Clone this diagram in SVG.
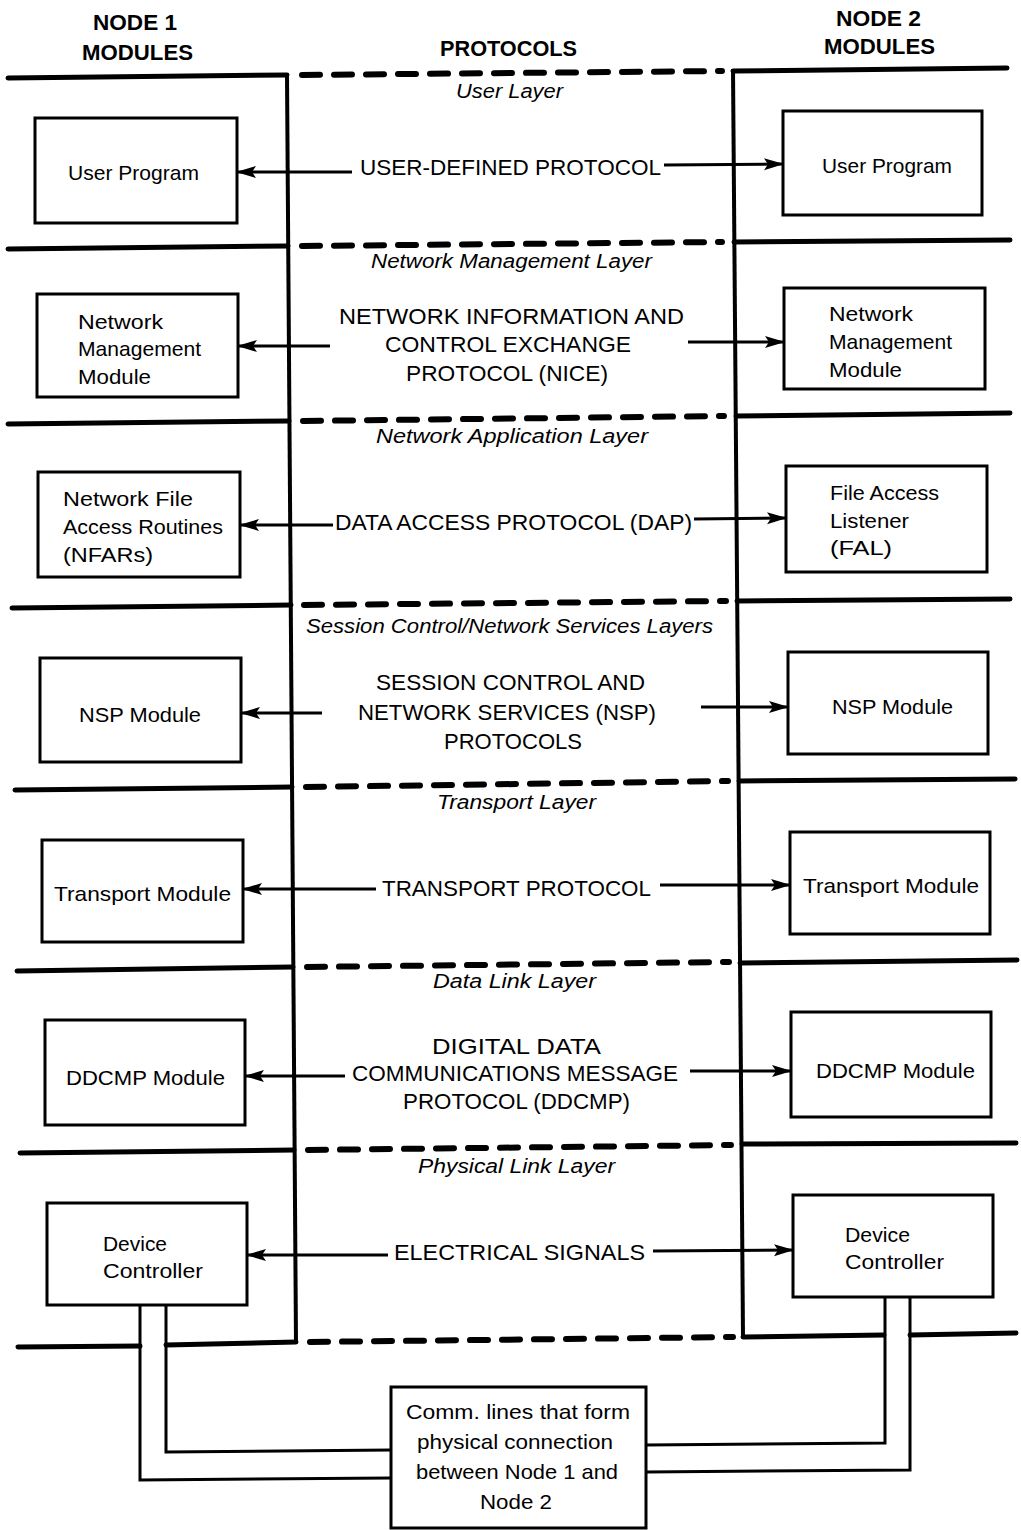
<svg xmlns="http://www.w3.org/2000/svg" width="1021" height="1530" viewBox="0 0 1021 1530">
<style>
.bg{fill:#fff}
.solid{stroke:#000;stroke-width:5;stroke-linecap:round;fill:none}
.dash{stroke:#000;stroke-width:6;stroke-linecap:round;stroke-dasharray:18 14;fill:none}
.vert{stroke:#000;stroke-width:4;fill:none}
.box{fill:#fff;stroke:#000;stroke-width:3}
.arr{stroke:#000;stroke-width:3;fill:none;marker-end:url(#ah)}
.pipe{stroke:#000;stroke-width:3;fill:none}
.hd{font-family:"Liberation Sans",Arial,sans-serif;font-weight:bold;font-size:22px;fill:#000}
.lay{font-family:"Liberation Sans",Arial,sans-serif;font-style:italic;font-size:20px;fill:#000}
.pr{font-family:"Liberation Sans",Arial,sans-serif;font-size:22px;fill:#000}
.md{font-family:"Liberation Sans",Arial,sans-serif;font-size:21px;fill:#000}
</style>
<defs>
<marker id="ah" markerWidth="20" markerHeight="14" refX="19" refY="7" orient="auto" markerUnits="userSpaceOnUse">
<path d="M0,1 L20,7 L0,13 L4,7 z" fill="#000"/>
</marker>
</defs>
<rect class="bg" x="0" y="0" width="1021" height="1530"/>

<g id="headers">
<text class="hd" x="93" y="30" textLength="84" lengthAdjust="spacingAndGlyphs">NODE 1</text>
<text class="hd" x="82" y="60" textLength="111" lengthAdjust="spacingAndGlyphs">MODULES</text>
<text class="hd" x="440" y="56" textLength="137" lengthAdjust="spacingAndGlyphs">PROTOCOLS</text>
<text class="hd" x="836" y="26" textLength="85" lengthAdjust="spacingAndGlyphs">NODE 2</text>
<text class="hd" x="824" y="54" textLength="111" lengthAdjust="spacingAndGlyphs">MODULES</text>
</g>

<g id="layer-lines">
<line class="solid" x1="8" y1="78" x2="287" y2="75"/>
<line class="solid" x1="8" y1="249" x2="288" y2="246"/>
<line class="solid" x1="8" y1="424" x2="289" y2="421"/>
<line class="solid" x1="12" y1="608" x2="291" y2="605"/>
<line class="solid" x1="15" y1="790" x2="292" y2="787"/>
<line class="solid" x1="17" y1="971" x2="293" y2="967"/>
<line class="solid" x1="20" y1="1153" x2="294" y2="1150"/>
<line class="solid" x1="18" y1="1347" x2="140" y2="1346"/>
<line class="solid" x1="166" y1="1345" x2="296" y2="1342"/>
<line class="solid" x1="733" y1="71" x2="1007" y2="68"/>
<line class="solid" x1="734" y1="242" x2="1010" y2="240"/>
<line class="solid" x1="736" y1="416" x2="1010" y2="413"/>
<line class="solid" x1="737" y1="601" x2="1010" y2="599"/>
<line class="solid" x1="739" y1="781" x2="1015" y2="779"/>
<line class="solid" x1="740" y1="963" x2="1017" y2="960"/>
<line class="solid" x1="742" y1="1144" x2="1016" y2="1143"/>
<line class="solid" x1="743" y1="1337" x2="884" y2="1335"/>
<line class="solid" x1="910" y1="1335" x2="1016" y2="1333"/>
<line class="dash" x1="302" y1="75" x2="722" y2="71"/>
<line class="dash" x1="302" y1="246" x2="722" y2="242"/>
<line class="dash" x1="303" y1="421" x2="724" y2="416"/>
<line class="dash" x1="304" y1="605" x2="726" y2="601"/>
<line class="dash" x1="306" y1="787" x2="728" y2="781"/>
<line class="dash" x1="307" y1="967" x2="729" y2="962"/>
<line class="dash" x1="308" y1="1150" x2="731" y2="1145"/>
<line class="dash" x1="310" y1="1342" x2="733" y2="1337"/>
<line class="vert" x1="287" y1="75" x2="296" y2="1343"/>
<line class="vert" x1="733" y1="69" x2="743" y2="1337"/>
</g>

<g id="layer-labels">
<text class="lay" x="456" y="98" textLength="107" lengthAdjust="spacingAndGlyphs">User Layer</text>
<text class="lay" x="371" y="268" textLength="281" lengthAdjust="spacingAndGlyphs">Network Management Layer</text>
<text class="lay" x="376" y="443" textLength="272" lengthAdjust="spacingAndGlyphs">Network Application Layer</text>
<text class="lay" x="306" y="633" textLength="407" lengthAdjust="spacingAndGlyphs">Session Control/Network Services Layers</text>
<text class="lay" x="437" y="809" textLength="159" lengthAdjust="spacingAndGlyphs">Transport Layer</text>
<text class="lay" x="433" y="988" textLength="163" lengthAdjust="spacingAndGlyphs">Data Link Layer</text>
<text class="lay" x="418" y="1173" textLength="197" lengthAdjust="spacingAndGlyphs">Physical Link Layer</text>
</g>

<g id="connectors">
<line class="arr" x1="352" y1="172" x2="237" y2="172"/>
<line class="arr" x1="664" y1="165" x2="783" y2="164"/>
<line class="arr" x1="330" y1="346" x2="238" y2="346"/>
<line class="arr" x1="688" y1="342" x2="784" y2="342"/>
<line class="arr" x1="333" y1="525" x2="240" y2="525"/>
<line class="arr" x1="694" y1="519" x2="786" y2="518"/>
<line class="arr" x1="322" y1="713" x2="241" y2="713"/>
<line class="arr" x1="701" y1="707" x2="788" y2="707"/>
<line class="arr" x1="376" y1="889" x2="243" y2="889"/>
<line class="arr" x1="660" y1="885" x2="790" y2="885"/>
<line class="arr" x1="345" y1="1076" x2="245" y2="1076"/>
<line class="arr" x1="690" y1="1071" x2="791" y2="1071"/>
<line class="arr" x1="388" y1="1255" x2="247" y2="1255"/>
<line class="arr" x1="653" y1="1251" x2="793" y2="1250"/>
<polyline class="pipe" points="140,1305 140,1480 391,1478"/>
<polyline class="pipe" points="166,1305 166,1452 391,1450"/>
<polyline class="pipe" points="885,1297 885,1443 646,1445"/>
<polyline class="pipe" points="910,1297 910,1470 646,1472"/>
</g>

<g id="protocols">
<text class="pr" x="360" y="175" textLength="301" lengthAdjust="spacingAndGlyphs">USER-DEFINED PROTOCOL</text>
<text class="pr" x="339" y="324" textLength="345" lengthAdjust="spacingAndGlyphs">NETWORK INFORMATION AND</text>
<text class="pr" x="385" y="352" textLength="246" lengthAdjust="spacingAndGlyphs">CONTROL EXCHANGE</text>
<text class="pr" x="406" y="381" textLength="202" lengthAdjust="spacingAndGlyphs">PROTOCOL (NICE)</text>
<text class="pr" x="335" y="530" textLength="357" lengthAdjust="spacingAndGlyphs">DATA ACCESS PROTOCOL (DAP)</text>
<text class="pr" x="376" y="690" textLength="269" lengthAdjust="spacingAndGlyphs">SESSION CONTROL AND</text>
<text class="pr" x="358" y="720" textLength="298" lengthAdjust="spacingAndGlyphs">NETWORK SERVICES (NSP)</text>
<text class="pr" x="444" y="749" textLength="138" lengthAdjust="spacingAndGlyphs">PROTOCOLS</text>
<text class="pr" x="382" y="896" textLength="269" lengthAdjust="spacingAndGlyphs">TRANSPORT PROTOCOL</text>
<text class="pr" x="432" y="1054" textLength="169" lengthAdjust="spacingAndGlyphs">DIGITAL DATA</text>
<text class="pr" x="352" y="1081" textLength="326" lengthAdjust="spacingAndGlyphs">COMMUNICATIONS MESSAGE</text>
<text class="pr" x="403" y="1109" textLength="227" lengthAdjust="spacingAndGlyphs">PROTOCOL (DDCMP)</text>
<text class="pr" x="394" y="1260" textLength="251" lengthAdjust="spacingAndGlyphs">ELECTRICAL SIGNALS</text>
</g>

<g id="n1-user-program">
<rect class="box" x="35" y="118" width="202" height="105"/>
<text class="md" x="68" y="180" textLength="131" lengthAdjust="spacingAndGlyphs">User Program</text>
</g>
<g id="n2-user-program">
<rect class="box" x="783" y="111" width="199" height="104"/>
<text class="md" x="822" y="173" textLength="130" lengthAdjust="spacingAndGlyphs">User Program</text>
</g>

<g id="n1-netmgmt">
<rect class="box" x="37" y="294" width="201" height="103"/>
<text class="md" x="78" y="329" textLength="85" lengthAdjust="spacingAndGlyphs">Network</text>
<text class="md" x="78" y="356" textLength="123" lengthAdjust="spacingAndGlyphs">Management</text>
<text class="md" x="78" y="384" textLength="73" lengthAdjust="spacingAndGlyphs">Module</text>
</g>
<g id="n2-netmgmt">
<rect class="box" x="784" y="288" width="201" height="101"/>
<text class="md" x="829" y="321" textLength="84" lengthAdjust="spacingAndGlyphs">Network</text>
<text class="md" x="829" y="349" textLength="123" lengthAdjust="spacingAndGlyphs">Management</text>
<text class="md" x="829" y="377" textLength="73" lengthAdjust="spacingAndGlyphs">Module</text>
</g>

<g id="n1-nfar">
<rect class="box" x="38" y="472" width="202" height="105"/>
<text class="md" x="63" y="506" textLength="130" lengthAdjust="spacingAndGlyphs">Network File</text>
<text class="md" x="63" y="534" textLength="160" lengthAdjust="spacingAndGlyphs">Access Routines</text>
<text class="md" x="63" y="562" textLength="90" lengthAdjust="spacingAndGlyphs">(NFARs)</text>
</g>
<g id="n2-fal">
<rect class="box" x="786" y="466" width="201" height="106"/>
<text class="md" x="830" y="500" textLength="109" lengthAdjust="spacingAndGlyphs">File Access</text>
<text class="md" x="830" y="528" textLength="79" lengthAdjust="spacingAndGlyphs">Listener</text>
<text class="md" x="830" y="555" textLength="62" lengthAdjust="spacingAndGlyphs">(FAL)</text>
</g>

<g id="n1-nsp">
<rect class="box" x="40" y="658" width="201" height="104"/>
<text class="md" x="79" y="722" textLength="122" lengthAdjust="spacingAndGlyphs">NSP Module</text>
</g>
<g id="n2-nsp">
<rect class="box" x="788" y="652" width="200" height="102"/>
<text class="md" x="832" y="714" textLength="121" lengthAdjust="spacingAndGlyphs">NSP Module</text>
</g>

<g id="n1-transport">
<rect class="box" x="42" y="840" width="201" height="102"/>
<text class="md" x="54" y="901" textLength="177" lengthAdjust="spacingAndGlyphs">Transport Module</text>
</g>
<g id="n2-transport">
<rect class="box" x="790" y="832" width="200" height="102"/>
<text class="md" x="803" y="893" textLength="176" lengthAdjust="spacingAndGlyphs">Transport Module</text>
</g>

<g id="n1-ddcmp">
<rect class="box" x="45" y="1020" width="200" height="105"/>
<text class="md" x="66" y="1085" textLength="159" lengthAdjust="spacingAndGlyphs">DDCMP Module</text>
</g>
<g id="n2-ddcmp">
<rect class="box" x="791" y="1012" width="200" height="105"/>
<text class="md" x="816" y="1078" textLength="159" lengthAdjust="spacingAndGlyphs">DDCMP Module</text>
</g>

<g id="n1-device">
<rect class="box" x="47" y="1203" width="200" height="102"/>
<text class="md" x="103" y="1251" textLength="64" lengthAdjust="spacingAndGlyphs">Device</text>
<text class="md" x="103" y="1278" textLength="100" lengthAdjust="spacingAndGlyphs">Controller</text>
</g>
<g id="n2-device">
<rect class="box" x="793" y="1195" width="200" height="102"/>
<text class="md" x="845" y="1242" textLength="65" lengthAdjust="spacingAndGlyphs">Device</text>
<text class="md" x="845" y="1269" textLength="99" lengthAdjust="spacingAndGlyphs">Controller</text>
</g>

<g id="comm-lines">
<rect class="box" x="391" y="1387" width="255" height="141"/>
<text class="md" x="406" y="1419" textLength="224" lengthAdjust="spacingAndGlyphs">Comm. lines that form</text>
<text class="md" x="417" y="1449" textLength="196" lengthAdjust="spacingAndGlyphs">physical connection</text>
<text class="md" x="416" y="1479" textLength="202" lengthAdjust="spacingAndGlyphs">between Node 1 and</text>
<text class="md" x="480" y="1509" textLength="72" lengthAdjust="spacingAndGlyphs">Node 2</text>
</g>
</svg>
